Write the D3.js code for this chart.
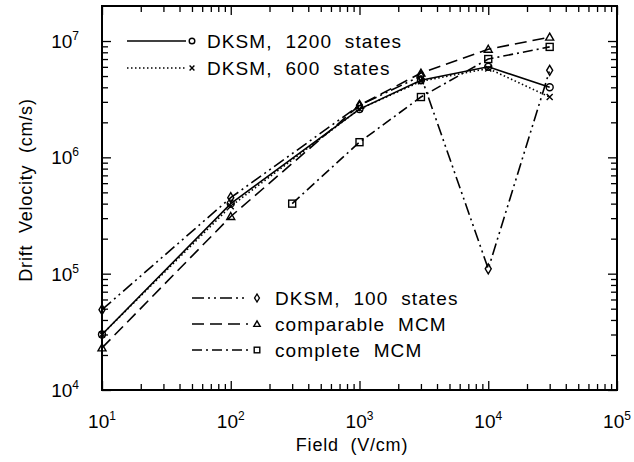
<!DOCTYPE html>
<html>
<head>
<meta charset="utf-8">
<script src="https://cdn.jsdelivr.net/npm/d3@7"></script>
<style>
  body { margin: 0; background: #fff; }
  text { font-family: "Liberation Sans", Arial, sans-serif; fill: #000; white-space: pre; }
</style>
</head>
<body>
<script>
// valores
const camposPrincipales = [10, 100, 1000, 3000, 10000, 30000];
const camposCompleto = [300, 1000, 3000, 10000, 30000];
const dksm1200 = [3.0e4, 4.0e5, 2.6e6, 4.6e6, 6.0e6, 4.0e6];
const dksm600 = [3.0e4, 3.8e5, 2.6e6, 4.5e6, 5.8e6, 3.3e6];
const dksm100 = [4.9e4, 4.5e5, 2.8e6, 5.0e6, 1.1e5, 5.6e6];
const comparableMCM = [2.3e4, 3.1e5, 2.8e6, 5.3e6, 8.5e6, 1.08e7];
const completeMCM = [4.0e5, 1.35e6, 3.3e6, 7.0e6, 8.9e6];

const nombres = [
  "DKSM,  1200  states",
  "DKSM,  600  states",
  "DKSM,  100  states",
  "comparable  MCM",
  "complete  MCM",
];
const ticksX = [1, 2, 3, 4, 5];
const ticksY = [4, 5, 6, 7];

const width = 634;
const height = 462;
const margin = { top: 6, right: 17, bottom: 72, left: 102 };

const svg = d3
  .select("body")
  .append("svg")
  .attr("width", width)
  .attr("height", height);

const escalaX = d3
  .scaleLog()
  .domain([10, 1e5])
  .range([margin.left, width - margin.right]);

const escalaY = d3
  .scaleLog()
  .domain([1e4, 2e7])
  .range([height - margin.bottom, margin.top]);

const series = [
  { x: camposPrincipales, y: dksm1200, dash: null, marca: "circulo" },
  { x: camposPrincipales, y: dksm600, dash: "1.5,2.5", marca: "cruz" },
  { x: camposPrincipales, y: dksm100, dash: "12,4,2,4,2,4", marca: "diamante" },
  { x: camposPrincipales, y: comparableMCM, dash: "12,6", marca: "triangulo" },
  { x: camposCompleto, y: completeMCM, dash: "10,4,2,4", marca: "cuadrado" },
];

// ejes con ticks hacia adentro
const menoresX = [];
for (let e = 1; e < 5; e++) for (let k = 2; k < 10; k++) menoresX.push(k * 10 ** e);
const menoresY = [];
for (let e = 4; e < 8; e++) for (let k = 2; k < 10; k++) if (k * 10 ** e < 2e7) menoresY.push(k * 10 ** e);
const mayoresX = ticksX.map((e) => 10 ** e);
const mayoresY = ticksY.map((e) => 10 ** e);

function eje(gen, escala, pos, valores, largo) {
  svg
    .append("g")
    .attr("transform", pos)
    .call(gen(escala).tickValues(valores).tickSize(-largo).tickFormat("").tickSizeOuter(0))
    .call((g) => g.select(".domain").remove())
    .call((g) => g.selectAll("line").attr("stroke", "#000").attr("stroke-width", 1.3));
}
const yAbajo = height - margin.bottom;
const xDerecha = width - margin.right;
eje(d3.axisBottom, escalaX, `translate(0,${yAbajo})`, mayoresX, 9);
eje(d3.axisBottom, escalaX, `translate(0,${yAbajo})`, menoresX, 6);
eje(d3.axisTop, escalaX, `translate(0,${margin.top})`, mayoresX, 9);
eje(d3.axisTop, escalaX, `translate(0,${margin.top})`, menoresX, 6);
eje(d3.axisLeft, escalaY, `translate(${margin.left},0)`, mayoresY, 9);
eje(d3.axisLeft, escalaY, `translate(${margin.left},0)`, menoresY, 6);
eje(d3.axisRight, escalaY, `translate(${xDerecha},0)`, mayoresY, 9);
eje(d3.axisRight, escalaY, `translate(${xDerecha},0)`, menoresY, 6);

svg
  .append("rect")
  .attr("x", margin.left)
  .attr("y", margin.top)
  .attr("width", xDerecha - margin.left)
  .attr("height", yAbajo - margin.top)
  .attr("fill", "none")
  .attr("stroke", "#000")
  .attr("stroke-width", 2);

// etiquetas de potencias
function potencia(sel, exp) {
  sel.append("tspan").text("10");
  sel.append("tspan").attr("dy", -8).attr("font-size", 12).text(exp);
}
ticksX.forEach((e) => {
  svg
    .append("text")
    .attr("x", escalaX(10 ** e))
    .attr("y", 428)
    .attr("text-anchor", "middle")
    .attr("font-size", 19)
    .call(potencia, e);
});
ticksY.forEach((e) => {
  svg
    .append("text")
    .attr("x", 79)
    .attr("y", escalaY(10 ** e) + 7)
    .attr("text-anchor", "end")
    .attr("font-size", 19)
    .call(potencia, e);
});

svg
  .append("text")
  .attr("x", 352)
  .attr("y", 451)
  .attr("text-anchor", "middle")
  .attr("font-size", 18)
  .attr("letter-spacing", 0.8)
  .text("Field  (V/cm)");

svg
  .append("text")
  .attr("transform", "translate(32,190) rotate(-90)")
  .attr("text-anchor", "middle")
  .attr("font-size", 18)
  .attr("letter-spacing", 0.8)
  .text("Drift  Velocity  (cm/s)");

// marcadores
function marca(g, tipo, cx, cy, s) {
  const trazo = (el) => el.attr("fill", "none").attr("stroke", "#000").attr("stroke-width", 1.4);
  if (tipo === "circulo") {
    g.append("circle").attr("cx", cx).attr("cy", cy).attr("r", 3.5 * s).call(trazo);
  } else if (tipo === "cruz") {
    const r = 3 * s;
    g.append("path")
      .attr("d", `M${cx - r},${cy - r}L${cx + r},${cy + r}M${cx - r},${cy + r}L${cx + r},${cy - r}`)
      .call(trazo);
  } else if (tipo === "diamante") {
    const w = 3 * s;
    const h = 5 * s;
    g.append("path")
      .attr("d", `M${cx},${cy - h}L${cx + w},${cy}L${cx},${cy + h}L${cx - w},${cy}Z`)
      .call(trazo);
  } else if (tipo === "triangulo") {
    const r = 4 * s;
    g.append("path")
      .attr("d", `M${cx},${cy - r}L${cx + r},${cy + r * 0.75}L${cx - r},${cy + r * 0.75}Z`)
      .call(trazo);
  } else if (tipo === "cuadrado") {
    const r = 3.5 * s;
    g.append("rect").attr("x", cx - r).attr("y", cy - r).attr("width", 2 * r).attr("height", 2 * r).call(trazo);
  }
}

const linea = d3
  .line()
  .x((d) => escalaX(d[0]))
  .y((d) => escalaY(d[1]));

const contenedor = svg.append("g");
series.forEach((s) => {
  const puntos = s.x.map((x, i) => [x, s.y[i]]);
  contenedor
    .append("path")
    .attr("d", linea(puntos))
    .attr("fill", "none")
    .attr("stroke", "#000")
    .attr("stroke-width", 1.6)
    .attr("stroke-dasharray", s.dash);
  puntos.forEach((p) => marca(contenedor, s.marca, escalaX(p[0]), escalaY(p[1]), 1));
});

// leyendas
const leyendas = [
  { serie: 0, x1: 127, x2: 186, mx: 192, tx: 207, y: 41 },
  { serie: 1, x1: 127, x2: 186, mx: 192, tx: 207, y: 68 },
  { serie: 2, x1: 192, x2: 248, mx: 257, tx: 275, y: 298 },
  { serie: 3, x1: 192, x2: 248, mx: 257, tx: 275, y: 324 },
  { serie: 4, x1: 192, x2: 248, mx: 257, tx: 275, y: 350 },
];
leyendas.forEach((l) => {
  const s = series[l.serie];
  svg
    .append("line")
    .attr("x1", l.x1)
    .attr("x2", l.x2)
    .attr("y1", l.y)
    .attr("y2", l.y)
    .attr("stroke", "#000")
    .attr("stroke-width", 1.6)
    .attr("stroke-dasharray", s.dash);
  marca(svg, s.marca, l.mx, l.y, 0.8);
  svg
    .append("text")
    .attr("x", l.tx)
    .attr("y", l.y + 7)
    .attr("font-size", 19)
    .attr("letter-spacing", 1.1)
    .text(nombres[l.serie]);
});
</script>
</body>
</html>
